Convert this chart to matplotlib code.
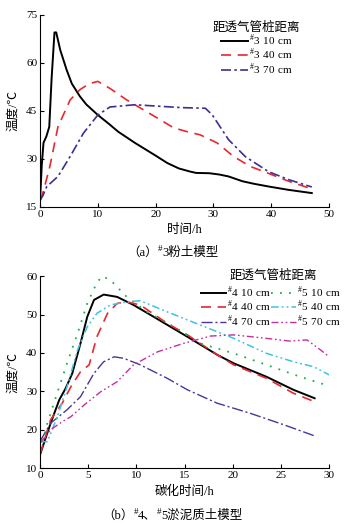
import matplotlib
matplotlib.use("Agg")
import matplotlib.pyplot as plt

plt.rcParams['font.family'] = ['Liberation Serif', 'Noto Sans CJK SC']
plt.rcParams['mathtext.fontset'] = 'custom'
plt.rcParams['mathtext.rm'] = 'Liberation Serif'
plt.rcParams['font.size'] = 8

# (a) #3 silt model
t3_10 = [0, 0.3, 0.6, 1.1, 1.6, 2.0, 2.5, 2.8, 3.5, 4.6, 5.5, 6.9, 8.0, 10, 12, 13.5, 16.4, 20, 22, 24, 26, 27, 29.3, 31, 32.6, 35, 37, 39.7, 43, 47]
v3_10 = [17, 28, 35, 37, 40, 55, 69.5, 69.5, 64, 57.8, 53.5, 49.5, 47, 43.7, 40.8, 38.5, 35, 31, 28.7, 27, 26, 25.6, 25.5, 25.1, 24.5, 23, 22.2, 21.3, 20.3, 19.3]
t3_40 = [0, 0.6, 1.7, 3.1, 5.2, 6.9, 8.5, 10, 12.1, 15, 17.9, 20.8, 23.1, 25.4, 27.7, 30.6, 33.5, 36.4, 39.3, 43, 47]
v3_40 = [17, 20, 27.6, 40, 48.4, 51.6, 53.5, 54.2, 52, 48.4, 45.3, 42.2, 39.7, 38.5, 37.5, 35, 30.7, 27.6, 25.6, 23, 20.6]
t3_70 = [0, 0.5, 1.15, 3.1, 5.2, 7.5, 10, 12.1, 16.4, 20, 24.5, 28.6, 29.8, 32.6, 35.5, 39.5, 43, 47]
v3_70 = [17, 18.5, 21.3, 24.5, 30.7, 38, 43.7, 46.2, 46.9, 46.5, 46, 45.8, 43.7, 36, 30.7, 26, 23.5, 21.2]

# (b) #4, #5 muddy soil models
t4_10 = [0, 1.1, 2, 2.66, 3.35, 4.2, 4.9, 5.6, 6.6, 8, 9.7, 11.8, 15.3, 18.4, 20.1, 23.5, 26.3, 28.5]
v4_10 = [13.5, 21.7, 27.8, 30.8, 34.7, 42.5, 49.4, 53.8, 55.2, 54.6, 52.5, 49.4, 44.2, 39.5, 37.3, 33.8, 30.4, 28.2]
t4_40 = [0, 1.1, 2.3, 3.2, 4.2, 5.1, 5.9, 7, 8, 9, 10.4, 13.2, 15.3, 18.4, 20.1, 23.5, 26.3, 28.5]
v4_40 = [13.5, 22.6, 26.9, 31.2, 35.1, 36.9, 44.2, 50.3, 52.9, 53.3, 52.5, 47.7, 44.7, 39.5, 36.9, 33.4, 29.5, 27.3]
t4_70 = [0, 1.1, 2.8, 4.2, 5.6, 6.6, 7.7, 8.7, 10.4, 13.2, 15.3, 18.4, 21.8, 25.3, 28.5]
v4_70 = [17, 21.7, 25.2, 28.6, 34.7, 37.7, 39, 38.6, 36.9, 33.4, 30.4, 26.9, 24.3, 21.3, 18.4]
t5_10 = [0, 0.76, 2, 2.8, 3.9, 4.9, 5.9, 6.45, 7.3, 9, 11.1, 13.9, 16.6, 20.1, 23.5, 27, 30]
v5_10 = [14.5, 21.7, 31.2, 37.3, 45.1, 52.9, 58.3, 60, 59, 54.6, 50.7, 46.8, 42.5, 39.9, 36.9, 33.8, 31.4]
t5_40 = [0, 0.76, 1.8, 2.8, 3.9, 4.9, 5.9, 7.3, 9, 10.4, 13.2, 16.6, 20.1, 23.5, 26.3, 28.4, 30]
v5_40 = [16.9, 16.9, 23.4, 31.2, 40.8, 46.8, 50.3, 52.5, 53.3, 53.6, 50.7, 47.3, 43.8, 39.9, 37.7, 36.4, 34.3]
t5_70 = [0, 1.1, 2.3, 3.2, 4.6, 6.3, 8, 9.7, 12.2, 14.9, 17.7, 20.1, 23.5, 25.9, 27.7, 29.1, 30]
v5_70 = [16.5, 20, 22.1, 23.4, 26.5, 29.9, 32.5, 36.9, 40.3, 42.5, 44.4, 44.7, 43.8, 43.1, 43.4, 40.8, 39]

legend_title = '距透气管桩距离'
cjk_size = 9


def lab(s):
    # "#3 10 cm" with a raised #
    return r'$^{\#}\mathrm{' + s.replace(' ', r'\ ') + '}$'


def caption(fig, y, parts):
    # parts: (text, raised?) pieces placed one after another, centred as a whole
    r = fig.canvas.get_renderer()
    texts = []
    for s, sup in parts:
        t = fig.text(0, y + (0.008 if sup else 0), s, ha='left', va='center',
                     fontsize=6.5 if sup else cjk_size)
        texts.append(t)
    widths = [t.get_window_extent(r).width / fig.bbox.width for t in texts]
    x = 0.5 - sum(widths) / 2
    for t, w in zip(texts, widths):
        t.set_x(x)
        x += w


fig = plt.figure(figsize=(3.45, 5.29), dpi=100)
ax1 = fig.add_axes([0.116, 0.609, 0.838, 0.363])
ax2 = fig.add_axes([0.116, 0.115, 0.838, 0.363])

ax1.plot(t3_10, v3_10, color='black', lw=1.4, label=lab('3 10 cm'))
ax1.plot(t3_40, v3_40, color='#e8282d', lw=1.2, dashes=(6, 4), label=lab('3 40 cm'))
ax1.plot(t3_70, v3_70, color='#3b2f8f', lw=1.2, dashes=(6, 2, 1.5, 2), label=lab('3 70 cm'))
ax1.set_xlim(0, 50)
ax1.set_ylim(15, 75)
ax1.set_xticks([0, 10, 20, 30, 40, 50])
ax1.set_yticks([15, 30, 45, 60, 75])
ax1.set_xlabel('时间/h', labelpad=4, fontsize=cjk_size)
ax1.set_ylabel('温度/℃', labelpad=5, fontsize=cjk_size)
ax1.legend(title=legend_title, loc='upper right', bbox_to_anchor=(0.935, 1.016),
           frameon=False, handlelength=2.4, handletextpad=0.1, labelspacing=-0.1,
           fontsize=8, title_fontsize=cjk_size)

ax2.plot(t4_10, v4_10, color='black', lw=1.4, label=lab('4 10 cm'))
ax2.plot(t4_40, v4_40, color='#e8282d', lw=1.2, dashes=(6, 4), label=lab('4 40 cm'))
ax2.plot(t4_70, v4_70, color='#4b3598', lw=1.0, dashes=(8, 2, 1.5, 2), label=lab('4 70 cm'))
ax2.plot(t5_10, v5_10, color='#1fae4a', lw=1.3, dashes=(1, 4), label=lab('5 10 cm'))
ax2.plot(t5_40, v5_40, color='#3cc4e2', lw=1.1, dashes=(5, 2, 1.2, 2, 1.2, 2), label=lab('5 40 cm'))
ax2.plot(t5_70, v5_70, color='#c2309c', lw=1.0, dashes=(5, 2, 1.2, 2, 1.2, 2), label=lab('5 70 cm'))
ax2.set_xlim(0, 30)
ax2.set_ylim(10, 60)
ax2.set_xticks([0, 5, 10, 15, 20, 25, 30])
ax2.set_yticks([10, 20, 30, 40, 50, 60])
ax2.set_xlabel('碳化时间/h', labelpad=4, fontsize=cjk_size)
ax2.set_ylabel('温度/℃', labelpad=5, fontsize=cjk_size)
ax2.text(0.806, 1.0, legend_title, transform=ax2.transAxes, ha='center', va='center',
         fontsize=cjk_size)
ax2.legend(loc='upper right', bbox_to_anchor=(1.075, 1.006), ncol=2,
           frameon=False, handlelength=2.25, handletextpad=0.1, labelspacing=-0.1,
           columnspacing=0.05, fontsize=8)

for ax in (ax1, ax2):
    ax.spines['top'].set_visible(False)
    ax.spines['right'].set_visible(False)
    ax.tick_params(direction='in', length=3, width=0.8, pad=2)

caption(fig, 0.522, [('（a）', False), ('#', True), ('3粉土模型', False)])
caption(fig, 0.025, [('（b）', False), ('#', True), ('4、', False), ('#', True), ('5淤泥质土模型', False)])

fig.savefig('out.png', dpi=100)
